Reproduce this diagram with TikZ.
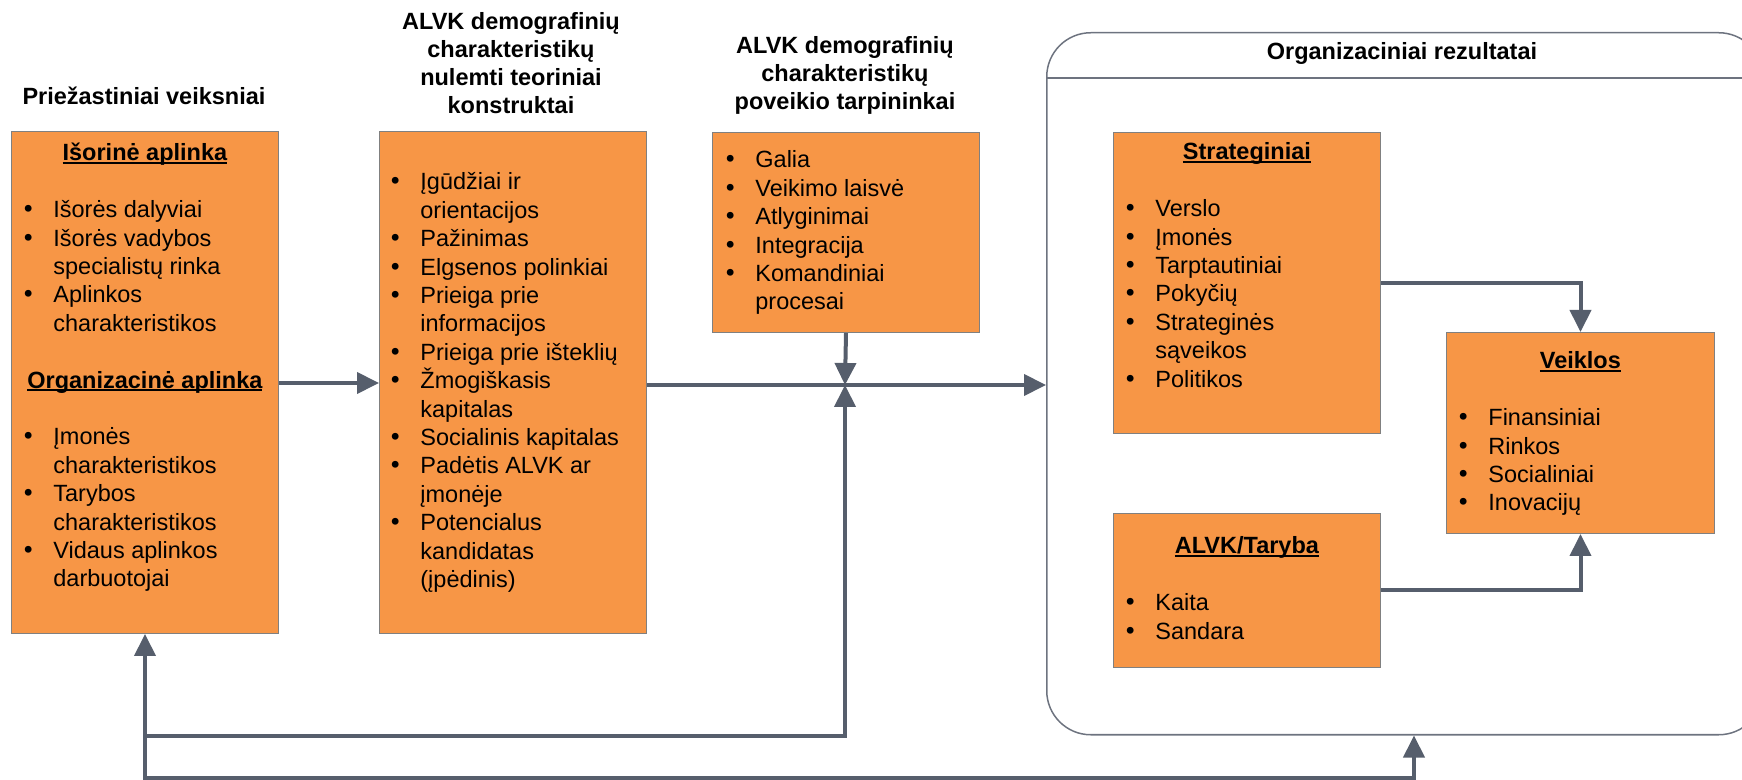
\documentclass[tikz,border=0pt]{standalone}
\usepackage{fontspec}
\setmainfont{Liberation Sans}
\newfontfamily\bulletfont{DejaVu Sans}
\usetikzlibrary{arrows.meta}

\definecolor{boxfill}{HTML}{F79646}
\definecolor{boxedge}{HTML}{808080}
\definecolor{linkc}{HTML}{565E6C}
\definecolor{framec}{HTML}{6D737F}

% text helpers for the list boxes
\newsavebox{\headbox}
\newcommand{\bodyfont}{\fontsize{11.75pt}{14.2pt}\selectfont}
\newcommand{\titlefont}{\fontsize{11.75pt}{13.9pt}\selectfont\bfseries}
\newcommand{\headul}[1]{\sbox{\headbox}{#1}\rlap{\rule[-1.3pt]{\wd\headbox}{0.9pt}}\usebox{\headbox}}
\newcommand{\boxhead}[1]{\centerline{\bfseries\headul{#1}}}
\newcommand{\bigbullet}{{\bulletfont •}}
\newcommand{\bitem}[1]{\noindent\makebox[16pt][l]{\bigbullet}#1\par}
\newcommand{\citem}[1]{\noindent\hspace*{16pt}#1\par}
\newcommand{\emptyline}{\noindent\mbox{}\par}

\begin{document}
\begin{tikzpicture}[x=0.5pt,y=-0.5pt,
  box/.style={draw=boxedge, line width=0.5pt, fill=boxfill, rectangle, inner sep=0pt, anchor=north west},
  txt/.style={inner sep=0pt, anchor=base west, text=black},
  ttl/.style={inner sep=0pt, anchor=base, text=black},
  link/.style={draw=linkc, line width=2pt, -{Triangle[length=11pt,width=10.5pt]}},
  tip/.style={{Triangle[length=11pt,width=10.5pt]}-{Triangle[length=11pt,width=10.5pt]}}]

\useasboundingbox (0,0) rectangle (1742,780);
\clip (0,0) rectangle (1742,780);

% outcome frame with header strip
\node[draw=framec, line width=0.75pt, rounded corners=22pt, rectangle, inner sep=0pt,
      anchor=north west, minimum width=358pt, minimum height=351pt] (res) at (1046,32) {};
\draw[framec, line width=0.75pt] (res.west |- 0,78) -- (res.east |- 0,78);
\node[ttl] (hdr) at (1402,60) {\bodyfont\bfseries Organizaciniai rezultatai};

% column titles
\node[ttl] (t1) at (144,105) {\bodyfont\bfseries Priežastiniai veiksniai};
\node[ttl] (t2) at (511,30) {\parbox[t]{160pt}{\centering\titlefont
  ALVK demografinių\\charakteristikų\\nulemti teoriniai\\konstruktai}};
\node[ttl] (t3) at (845,54) {\parbox[t]{160pt}{\centering\titlefont
  ALVK demografinių\\charakteristikų\\poveikio tarpininkai}};

% boxes
\node[box, minimum width=133.5pt, minimum height=251pt] (ext) at (11,131) {};
\node[box, minimum width=133.5pt, minimum height=251pt] (theo) at (379,131) {};
\node[box, minimum width=133.5pt, minimum height=100pt] (med) at (712,132) {};
\node[box, minimum width=133.5pt, minimum height=150.5pt] (strat) at (1113,132) {};
\node[box, minimum width=134pt, minimum height=100.5pt] (veik) at (1446,332) {};
\node[box, minimum width=133.5pt, minimum height=77pt] (alvk) at (1113,513) {};

% box contents
\node[txt] (ext-t) at (21,161) {\parbox[t]{123.5pt}{\bodyfont
  \boxhead{Išorinė aplinka}
  \emptyline
  \bitem{Išorės dalyviai}
  \bitem{Išorės vadybos}
  \citem{specialistų rinka}
  \bitem{Aplinkos}
  \citem{charakteristikos}
  \emptyline
  \boxhead{Organizacinė aplinka}
  \emptyline
  \bitem{Įmonės}
  \citem{charakteristikos}
  \bitem{Tarybos}
  \citem{charakteristikos}
  \bitem{Vidaus aplinkos}
  \citem{darbuotojai}}};

\node[txt] (theo-t) at (388,190) {\parbox[t]{124pt}{\bodyfont
  \bitem{Įgūdžiai ir}
  \citem{orientacijos}
  \bitem{Pažinimas}
  \bitem{Elgsenos polinkiai}
  \bitem{Prieiga prie}
  \citem{informacijos}
  \bitem{Prieiga prie išteklių}
  \bitem{Žmogiškasis}
  \citem{kapitalas}
  \bitem{Socialinis kapitalas}
  \bitem{Padėtis ALVK ar}
  \citem{įmonėje}
  \bitem{Potencialus}
  \citem{kandidatas}
  \citem{(įpėdinis)}}};

\node[txt] (med-t) at (723,168) {\parbox[t]{122pt}{\bodyfont
  \bitem{Galia}
  \bitem{Veikimo laisvė}
  \bitem{Atlyginimai}
  \bitem{Integracija}
  \bitem{Komandiniai}
  \citem{procesai}}};

\node[txt] (strat-t) at (1123,160) {\parbox[t]{123.5pt}{\bodyfont
  \boxhead{Strateginiai}
  \emptyline
  \bitem{Verslo}
  \bitem{Įmonės}
  \bitem{Tarptautiniai}
  \bitem{Pokyčių}
  \bitem{Strateginės}
  \citem{sąveikos}
  \bitem{Politikos}}};

\node[txt] (veik-t) at (1456,369) {\parbox[t]{124pt}{\bodyfont
  \boxhead{Veiklos}
  \emptyline
  \bitem{Finansiniai}
  \bitem{Rinkos}
  \bitem{Socialiniai}
  \bitem{Inovacijų}}};

\node[txt] (alvk-t) at (1123,554) {\parbox[t]{123.5pt}{\bodyfont
  \boxhead{ALVK/Taryba}
  \emptyline
  \bitem{Kaita}
  \bitem{Sandara}}};

% connectors
\coordinate (j) at (845,385);
\coordinate (fb) at (1414,778);

\draw[link] (ext.east |- 0,383) -- (theo.west |- 0,383);
\draw[link] (theo.east |- j) -- (res.west |- j);
\draw[link] (med.south) -- (j);
\draw[link] (ext.south |- 0,736) -| (j);
\draw[link, tip] (ext.south) -- (fb -| ext.south) -- (fb) -- (fb |- res.south);
\draw[link] (strat.east |- 0,283) -| (veik.north);
\draw[link] (alvk.east |- 0,590) -| (veik.south);

\end{tikzpicture}
\end{document}
